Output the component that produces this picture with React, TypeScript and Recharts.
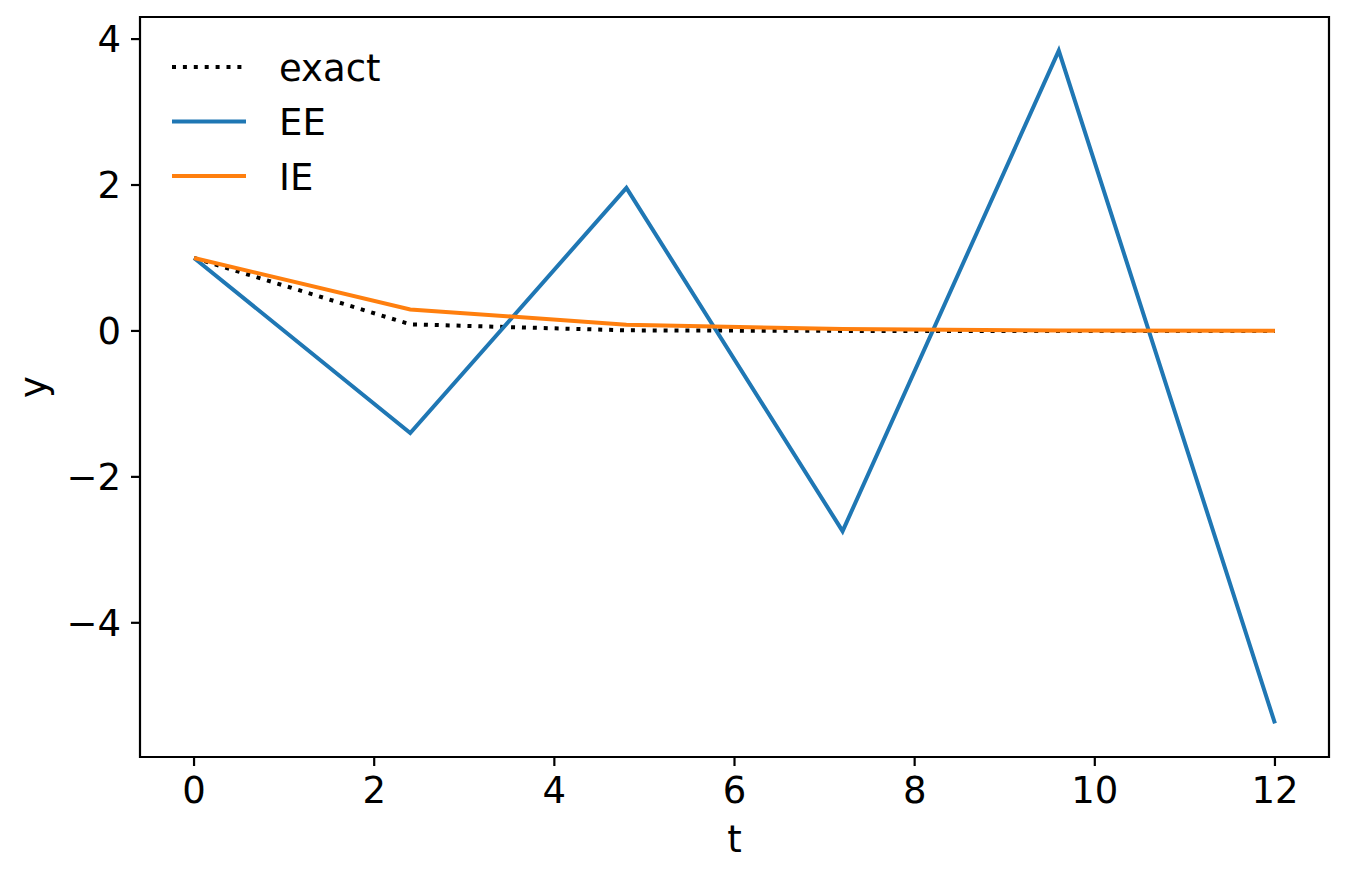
import { LineChart, Line, XAxis, YAxis, ReferenceArea, Legend } from 'recharts';

// time steps (h = 2.4)
const tValues = [0, 2.4, 4.8, 7.2, 9.6, 12];
const exactValues = [1, 0.0907, 0.0082, 0.00075, 0.00007, 0.000006];
const eeValues = [1, -1.4, 1.96, -2.744, 3.8416, -5.3782];
const ieValues = [1, 0.2941, 0.0865, 0.0254, 0.0075, 0.0022];

const xTicks = [0, 2, 4, 6, 8, 10, 12];
const yTicks = [-4, -2, 0, 2, 4];
const xDomain = [-0.6, 12.6];
const yDomain = [-5.8392, 4.3026];

const seriesNames = ['exact', 'EE', 'IE'];

const data = tValues.map((t, i) => ({
    t,
    exact: exactValues[i],
    EE: eeValues[i],
    IE: ieValues[i],
}));

const FONT = '"DejaVu Sans", sans-serif';
const FONT_SIZE = 37;
const BLUE = '#1f77b4';
const ORANGE = '#ff7f0e';

const fmt = (v: number) => (v < 0 ? `\u2212${Math.abs(v)}` : `${v}`);

function LegendBox() {
    const styles = [
        { color: '#000', dash: '4 6.9' },
        { color: BLUE, dash: undefined },
        { color: ORANGE, dash: undefined },
    ];
    return (
        <svg width={260} height={170} style={{ display: 'block' }}>
            {seriesNames.map((name, i) => {
                const cy = 27 + i * 54.5;
                return (
                    <g key={name}>
                        <line
                            x1={12}
                            x2={86}
                            y1={cy}
                            y2={cy}
                            stroke={styles[i].color}
                            strokeWidth={4}
                            strokeDasharray={styles[i].dash}
                        />
                        <text x={119} y={cy + 13.5} fontFamily={FONT} fontSize={FONT_SIZE} fill="#000">
                            {name}
                        </text>
                    </g>
                );
            })}
        </svg>
    );
}

function YLabel(props: any) {
    const vb = props.viewBox || {};
    const cy = (vb.y ?? 17) + (vb.height ?? 740) / 2;
    return (
        <text
            x={46}
            y={cy}
            transform={`rotate(-90, 46, ${cy})`}
            textAnchor="middle"
            fontFamily={FONT}
            fontSize={FONT_SIZE}
            fill="#000"
        >
            y
        </text>
    );
}

export default function App() {
    return (
        <div style={{ position: 'absolute', left: 0, top: 0, width: 1349, height: 878, background: '#fff' }}>
            <LineChart
                width={1349}
                height={878}
                data={data}
                margin={{ top: 17, right: 20, left: 0, bottom: 0 }}
            >
                <XAxis
                    dataKey="t"
                    type="number"
                    domain={xDomain}
                    ticks={xTicks}
                    allowDataOverflow
                    height={121}
                    axisLine={false}
                    tickLine={{ stroke: '#000', strokeWidth: 2.2 }}
                    tickSize={9}
                    tickMargin={11}
                    tick={{ fill: '#000', fontFamily: FONT, fontSize: FONT_SIZE }}
                    label={{
                        value: 't',
                        position: 'insideBottom',
                        offset: 26,
                        fill: '#000',
                        fontFamily: FONT,
                        fontSize: FONT_SIZE,
                    }}
                />
                <YAxis
                    type="number"
                    domain={yDomain}
                    ticks={yTicks}
                    allowDataOverflow
                    width={140}
                    axisLine={false}
                    tickLine={{ stroke: '#000', strokeWidth: 2.2 }}
                    tickSize={9}
                    tickMargin={10}
                    tickFormatter={fmt}
                    tick={{ fill: '#000', fontFamily: FONT, fontSize: FONT_SIZE }}
                    label={<YLabel />}
                />
                <ReferenceArea
                    x1={xDomain[0]}
                    x2={xDomain[1]}
                    y1={yDomain[0]}
                    y2={yDomain[1]}
                    fill="none"
                    fillOpacity={0}
                    stroke="#000"
                    strokeWidth={2.2}
                    strokeOpacity={1}
                />
                <Line
                    type="linear"
                    dataKey="exact"
                    stroke="#000"
                    strokeWidth={4}
                    strokeDasharray="4 6.9"
                    dot={false}
                    isAnimationActive={false}
                />
                <Line
                    type="linear"
                    dataKey="EE"
                    stroke={BLUE}
                    strokeWidth={4}
                    dot={false}
                    isAnimationActive={false}
                />
                <Line
                    type="linear"
                    dataKey="IE"
                    stroke={ORANGE}
                    strokeWidth={4}
                    dot={false}
                    isAnimationActive={false}
                />
                <Legend
                    layout="vertical"
                    align="center"
                    verticalAlign="middle"
                    wrapperStyle={{ left: 160, top: 40, width: 260, height: 170 }}
                    content={() => <LegendBox />}
                />
            </LineChart>
        </div>
    );
}
